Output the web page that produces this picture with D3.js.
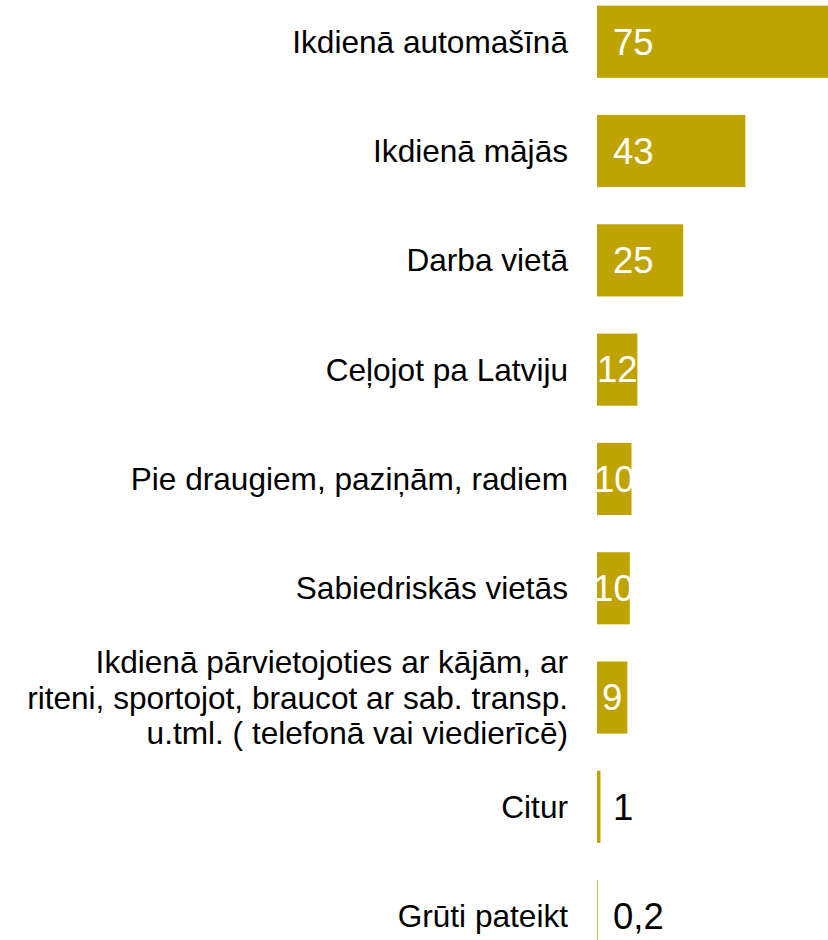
<!DOCTYPE html>
<html>
  <head>
    <meta charset="utf-8">
    <title>Kur klausās radio</title>
    <style>
      body { margin: 0; background: #fff; }
      svg { display: block; font-family: "Liberation Sans", Arial, sans-serif; }
    </style>
  </head>
  <body>
    <script src="https://d3js.org/d3.v7.min.js"></script>
    <svg id="chart" width="828" height="940"></svg>
    <script>
      // categories (multi-line ones split by \n)
      const categories = [
        'Ikdienā automašīnā',
        'Ikdienā mājās',
        'Darba vietā',
        'Ceļojot pa Latviju',
        'Pie draugiem, paziņām, radiem',
        'Sabiedriskās vietās',
        'Ikdienā pārvietojoties ar kājām, ar\nriteni, sportojot, braucot ar sab. transp.\nu.tml. ( telefonā vai viedierīcē)',
        'Citur',
        'Grūti pateikt'
      ]
      const values = [75, 43, 25, 11.7, 10, 9.5, 8.8, 1, 0.2]
      const valueLabels = ['75', '43', '25', '12', '10', '10', '9', '1', '0,2']

      const data = categories.map((c, i) => ({ cat: c, v: values[i], lab: valueLabels[i] }))

      const svg = d3.select('#chart')
      const color = '#bfa300'

      // bar base at 597, 75 runs past the right edge like the original
      const x = d3.scaleLinear()
        .domain([0, 75])
        .range([597, 597 + 75 * 3.45])

      const y = d3.scaleBand()
        .domain(categories)
        .range([-12.9, 970.8])
        .paddingInner(0.34)
        .paddingOuter(0.17)

      const rows = svg.selectAll('g.row')
        .data(data)
        .join('g')
          .attr('class', 'row')
          .attr('transform', d => `translate(0,${y(d.cat)})`)

      rows.append('rect')
        .attr('x', x(0))
        .attr('width', d => x(d.v) - x(0))
        .attr('height', y.bandwidth())
        .style('fill', color)

      // category labels, right aligned
      rows.append('text')
        .attr('text-anchor', 'end')
        .attr('font-size', 31.6)
        .attr('fill', '#000')
        .each(function(d) {
          const lines = d.cat.split('\n')
          const lh = 35.5
          const mid = y.bandwidth() / 2
          d3.select(this).selectAll('tspan')
            .data(lines)
            .join('tspan')
              .attr('x', 568)
              .attr('y', (l, i) => mid + (i - (lines.length - 1) / 2) * lh)
              .attr('dy', '0.35em')
              .text(l => l)
        })

      // value labels
      rows.append('text')
        .attr('font-size', 36.5)
        .attr('dy', '0.35em')
        .attr('y', y.bandwidth() / 2)
        .text(d => d.lab)
        .each(function(d) {
          const t = d3.select(this)
          const w = this.getComputedTextLength()
          const bw = x(d.v) - x(0)
          if (d.v < 5) {
            t.attr('x', x(0) + 16).attr('fill', '#000')
          } else if (w + 32 <= bw) {
            t.attr('x', x(0) + 16).attr('fill', '#fff')
          } else {
            t.attr('x', x(0) + bw / 2).attr('text-anchor', 'middle').attr('fill', '#fff')
          }
        })
    </script>
  </body>
</html>
